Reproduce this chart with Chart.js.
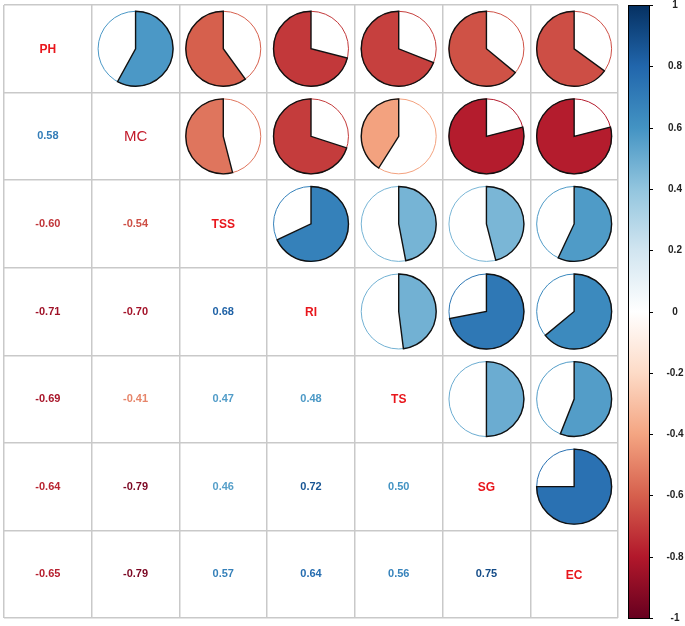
<!DOCTYPE html>
<html>
<head>
<meta charset="utf-8">
<script src="https://cdn.jsdelivr.net/npm/chart.js@4"></script>
<style>
  html, body { margin: 0; padding: 0; background: #fff; }
  #wrap { width: 685px; height: 626px; }
</style>
</head>
<body>
<div id="wrap"><canvas id="corrChart"></canvas></div>
<script>
// variables (rows/cols of the correlation matrix)
const variables = ['PH', 'MC', 'TSS', 'RI', 'TS', 'SG', 'EC'];

// correlation rows
const corPH  = [ 1.00,  0.58, -0.60, -0.71, -0.69, -0.64, -0.65];
const corMC  = [ 0.58,  1.00, -0.54, -0.70, -0.41, -0.79, -0.79];
const corTSS = [-0.60, -0.54,  1.00,  0.68,  0.47,  0.46,  0.57];
const corRI  = [-0.71, -0.70,  0.68,  1.00,  0.48,  0.72,  0.64];
const corTS  = [-0.69, -0.41,  0.47,  0.48,  1.00,  0.50,  0.56];
const corSG  = [-0.64, -0.79,  0.46,  0.72,  0.50,  1.00,  0.75];
const corEC  = [-0.65, -0.79,  0.57,  0.64,  0.56,  0.75,  1.00];

// colour legend ticks
const colorbarTicks = [-1, -0.8, -0.6, -0.4, -0.2, 0, 0.2, 0.4, 0.6, 0.8, 1];

const corRows = [corPH, corMC, corTSS, corRI, corTS, corSG, corEC];

// RdBu palette (corrplot default), low -> high
const palette = ['#67001F', '#B2182B', '#D6604D', '#F4A582', '#FDDBC7', '#FFFFFF',
                 '#D1E5F0', '#92C5DE', '#4393C3', '#2166AC', '#053061'];

function hexToRgb(h) {
  return [parseInt(h.slice(1, 3), 16), parseInt(h.slice(3, 5), 16), parseInt(h.slice(5, 7), 16)];
}
function colorFor(v) {
  v = Math.max(-1, Math.min(1, v));
  const pos = (v + 1) / 2 * (palette.length - 1);
  const i = Math.min(Math.floor(pos), palette.length - 2);
  const t = pos - i;
  const a = hexToRgb(palette[i]), b = hexToRgb(palette[i + 1]);
  const c = a.map((x, k) => Math.round(x + (b[k] - x) * t));
  return 'rgb(' + c.join(',') + ')';
}
// text a bit darker than the fill
function textColorFor(v) {
  return colorFor(Math.sign(v) * Math.min(1, Math.abs(v) * 1.2));
}

// split matrix into the three glyph kinds
const pieCells = [], numCells = [], labelCells = [];
corRows.forEach((row, i) => {
  row.forEach((v, j) => {
    const p = { x: j + 0.5, y: i + 0.5, v: v, name: variables[i] };
    if (j > i) pieCells.push(p);
    else if (j < i) numCells.push(p);
    else labelCells.push(p);
  });
});

const glyphPlugin = {
  id: 'corrGlyphs',
  afterDatasetsDraw(chart) {
    const ctx = chart.ctx;
    const xs = chart.scales.x, ys = chart.scales.y;
    const cellW = Math.abs(xs.getPixelForValue(1) - xs.getPixelForValue(0));
    const cellH = Math.abs(ys.getPixelForValue(1) - ys.getPixelForValue(0));
    const R = Math.min(cellW, cellH) * 0.428;

    ctx.save();
    // pies (upper triangle)
    chart.getDatasetMeta(0).data.forEach((pt, k) => {
      const v = pieCells[k].v;
      const col = colorFor(v);
      ctx.beginPath();
      ctx.arc(pt.x, pt.y, R, 0, Math.PI * 2);
      ctx.fillStyle = '#fff';
      ctx.fill();
      ctx.lineWidth = 1;
      ctx.strokeStyle = col;
      ctx.stroke();

      const start = -Math.PI / 2;
      const end = start + Math.PI * 2 * v;
      ctx.beginPath();
      ctx.moveTo(pt.x, pt.y);
      ctx.arc(pt.x, pt.y, R, start, end, v < 0);
      ctx.closePath();
      ctx.fillStyle = col;
      ctx.fill();
      ctx.lineWidth = 1.4;
      ctx.strokeStyle = '#111';
      ctx.stroke();
    });

    // coefficients (lower triangle)
    ctx.textAlign = 'center';
    ctx.textBaseline = 'middle';
    chart.getDatasetMeta(1).data.forEach((pt, k) => {
      const v = numCells[k].v;
      ctx.font = 'bold 11px Arial, "Liberation Sans", sans-serif';
      ctx.fillStyle = textColorFor(v);
      ctx.fillText(v.toFixed(2), pt.x, pt.y);
    });

    // variable names (diagonal)
    chart.getDatasetMeta(2).data.forEach((pt, k) => {
      const name = labelCells[k].name;
      if (name === 'MC') {
        ctx.font = '15px Arial, "Liberation Sans", sans-serif';
        ctx.fillStyle = '#c21a2a';
      } else {
        ctx.font = 'bold 12px Arial, "Liberation Sans", sans-serif';
        ctx.fillStyle = '#e8161c';
      }
      ctx.fillText(name, pt.x, pt.y + 1);
    });

    // colour bar
    const cb = chart.scales.cb;
    const x0 = chart.chartArea.right + 10, w = 21;
    const yTop = cb.getPixelForValue(1), yBot = cb.getPixelForValue(-1);
    const grad = ctx.createLinearGradient(0, yBot, 0, yTop);
    palette.forEach((c, i) => grad.addColorStop(i / (palette.length - 1), c));
    ctx.fillStyle = grad;
    ctx.fillRect(x0, yTop, w, yBot - yTop);
    ctx.lineWidth = 1;
    ctx.strokeStyle = '#000';
    ctx.strokeRect(x0 + 0.5, yTop + 0.5, w, yBot - yTop);

    ctx.font = 'bold 10px Arial, "Liberation Sans", sans-serif';
    ctx.fillStyle = '#222';
    colorbarTicks.forEach(t => {
      const y = Math.round(cb.getPixelForValue(t)) + 0.5;
      ctx.beginPath();
      ctx.moveTo(x0 + w, y);
      ctx.lineTo(x0 + w + 4, y);
      ctx.stroke();
      ctx.fillText(String(t), x0 + w + 26, y);
    });
    ctx.restore();
  }
};

const hidden = { pointRadius: 0, pointHoverRadius: 0, showLine: false };

new Chart(document.getElementById('corrChart'), {
  type: 'scatter',
  data: {
    datasets: [
      { label: 'pies', data: pieCells, ...hidden },
      { label: 'coefficients', data: numCells, ...hidden },
      { label: 'names', data: labelCells, ...hidden }
    ]
  },
  options: {
    responsive: true,
    maintainAspectRatio: false,
    animation: false,
    layout: { padding: { left: 4, top: 5, right: 67, bottom: 8 } },
    plugins: {
      legend: { display: false },
      tooltip: { enabled: false }
    },
    scales: {
      x: {
        type: 'linear', min: 0, max: 7,
        ticks: { stepSize: 1, display: false },
        grid: { color: '#c9c9c9', lineWidth: 1.5, drawTicks: false },
        border: { display: false }
      },
      y: {
        type: 'linear', min: 0, max: 7, reverse: true,
        ticks: { stepSize: 1, display: false },
        grid: { color: '#c9c9c9', lineWidth: 1.5, drawTicks: false },
        border: { display: false }
      },
      cb: {
        type: 'linear', position: 'right', min: -1, max: 1,
        display: false
      }
    }
  },
  plugins: [glyphPlugin]
});
</script>
</body>
</html>
